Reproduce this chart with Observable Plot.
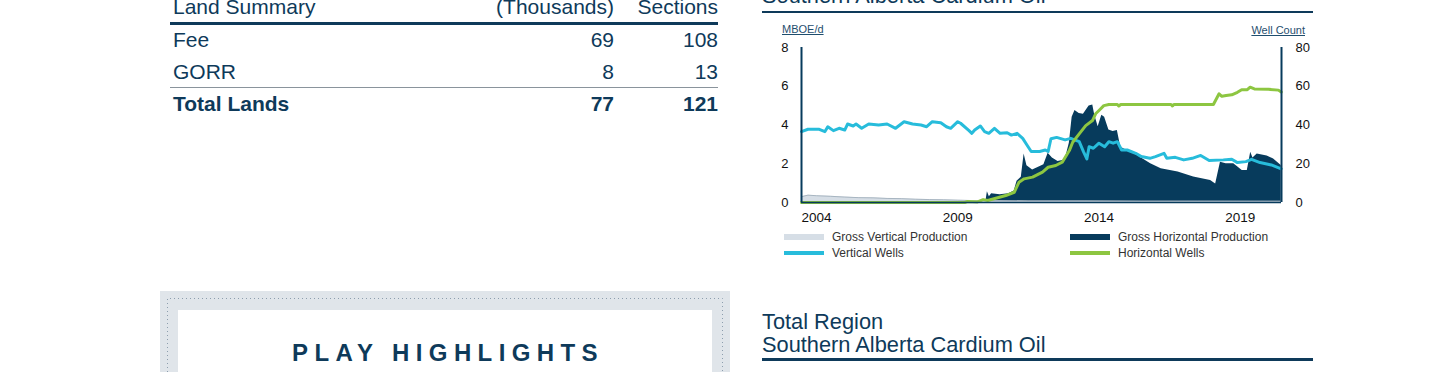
<!DOCTYPE html>
<html><head><meta charset="utf-8">
<script src="https://cdn.jsdelivr.net/npm/d3@7"></script>
<script src="https://cdn.jsdelivr.net/npm/@observablehq/plot@0.6"></script>
<style>
html,body{margin:0;padding:0;}
body{width:1440px;height:372px;overflow:hidden;background:#fff;position:relative;font-family:"Liberation Sans",Arial,sans-serif;color:#0e3a5a;}
.abs{position:absolute;white-space:nowrap;}
.t21{font-size:21px;line-height:24px;}
.t215{font-size:21.8px;line-height:24px;}
.r{text-align:right;}
.rule{position:absolute;background:#0e3a5a;}
.leg{position:absolute;font-size:12px;line-height:14px;color:#333;white-space:nowrap;}
.sw{position:absolute;width:40px;}
.unit{position:absolute;font-size:11px;line-height:13px;color:#1f4e6e;text-decoration:underline;white-space:nowrap;}
#chart{position:absolute;left:760px;top:20px;}
</style></head>
<body>
<div id="page"></div>
<div id="chart"></div>
<script>
// ---------- data ----------
const tableHeader = ["Land Summary", "(Thousands)", "Sections"];
const landCategories = ["Fee", "GORR"];
const landThousands = [69, 8];
const landSections = [108, 13];
const totalLabel = "Total Lands";
const totalThousands = 77;
const totalSections = 121;

const chartTitleTop = "Southern Alberta Cardium Oil";
const regionTitle = ["Total Region", "Southern Alberta Cardium Oil"];
const highlightsTitle = "PLAY HIGHLIGHTS";
const leftUnit = "MBOE/d";
const rightUnit = "Well Count";
const legendLabels = ["Gross Vertical Production", "Gross Horizontal Production", "Vertical Wells", "Horizontal Wells"];

const xDomain = [2003.97, 2020.96];
const xTickValues = [2004.5, 2009.5, 2014.5, 2019.5];
const xTickLabels = ["2004", "2009", "2014", "2019"];
const yTicksLeft = [0, 2, 4, 6, 8];
const yTicksRight = [0, 20, 40, 60, 80];

// Gross vertical production, MBOE/d  [year, value]
const vertProd = [[2003.97,0.30],[2004.2,0.38],[2004.5,0.35],[2005.0,0.32],[2005.5,0.28],[2006.0,0.25],[2006.5,0.24],[2007.0,0.21],[2007.5,0.2],[2008.0,0.17],[2008.5,0.15],[2009.0,0.14],[2009.5,0.12],[2010.0,0.1],[2011.0,0.09],[2012.0,0.08],[2014.0,0.08],[2016.0,0.07],[2018.0,0.07],[2020.95,0.06]];
// Gross horizontal production, MBOE/d
const horizProd = [[2003.97,0],[2009.5,0],[2009.6,0.05],[2010.5,0.08],[2010.55,0.55],[2010.62,0.3],[2010.7,0.45],[2011.0,0.4],[2011.3,0.45],[2011.5,0.6],[2011.6,1.1],[2011.75,1.3],[2011.85,2.5],[2011.95,1.9],[2012.15,1.68],[2012.4,1.85],[2012.55,1.95],[2012.7,2.54],[2012.85,2.3],[2013.05,2.11],[2013.3,2.2],[2013.45,3.06],[2013.55,4.4],[2013.65,4.75],[2013.8,4.6],[2013.95,4.55],[2014.15,4.98],[2014.28,5.03],[2014.35,4.5],[2014.47,3.91],[2014.6,4.5],[2014.7,4.4],[2014.85,3.74],[2015.0,3.66],[2015.15,3.72],[2015.27,2.85],[2015.5,2.68],[2015.86,2.43],[2016.33,2.0],[2016.7,1.74],[2017.3,1.57],[2017.85,1.31],[2018.45,1.14],[2018.63,0.96],[2018.8,2.08],[2019.0,2.0],[2019.27,2.0],[2019.57,1.65],[2019.75,1.65],[2019.87,2.6],[2019.95,2.3],[2020.1,2.5],[2020.45,2.4],[2020.68,2.25],[2020.95,1.91]];
// Vertical wells, count
const vertWells = [[2003.97,36.6],[2004.2,37.8],[2004.6,37.8],[2004.8,36.6],[2004.9,39.1],[2005.1,37.1],[2005.3,38.3],[2005.5,37.4],[2005.6,40.5],[2005.8,39.5],[2005.9,40.5],[2006.1,38.3],[2006.35,40.5],[2006.7,40],[2007.0,40.5],[2007.3,38.3],[2007.6,41.7],[2007.9,40.5],[2008.2,40],[2008.4,39.1],[2008.6,41.7],[2008.9,41.2],[2009.1,39.1],[2009.25,38.3],[2009.5,41.7],[2009.6,40.9],[2009.9,37.1],[2010.0,35.7],[2010.1,37.4],[2010.3,39.5],[2010.45,36.6],[2010.6,35.7],[2010.8,38.3],[2011.0,35.7],[2011.25,36],[2011.4,34.8],[2011.6,35.7],[2011.8,33.1],[2011.95,29.7],[2012.1,26.3],[2012.4,26.3],[2012.6,27.1],[2012.7,26.3],[2012.8,32.9],[2013.0,33.6],[2013.3,32.3],[2013.5,33.1],[2013.8,31.4],[2013.95,26.3],[2014.07,22.5],[2014.15,28.8],[2014.3,28],[2014.5,30.6],[2014.7,28.8],[2014.85,31.4],[2015.0,30.6],[2015.15,31.4],[2015.3,27.1],[2015.5,27.1],[2015.8,25.4],[2016.0,23.7],[2016.3,22.8],[2016.5,23.7],[2016.8,25.4],[2016.9,22.8],[2017.2,23.3],[2017.5,22],[2017.8,22.8],[2018.1,24.3],[2018.4,21.7],[2018.9,22],[2019.2,22.3],[2019.4,20.6],[2019.7,21.1],[2019.9,22.3],[2020.2,20.6],[2020.6,19.4],[2020.95,17.4]];
// Horizontal wells, count
const horizWells = [[2003.97,0],[2009.75,0],[2009.85,0.5],[2010.2,0.3],[2010.4,1.5],[2010.56,1.0],[2011.2,3.6],[2011.5,5.3],[2011.67,10.5],[2011.85,12.2],[2012.15,13.1],[2012.5,15.7],[2012.7,18.2],[2012.97,19.1],[2013.2,20.8],[2013.45,26.8],[2013.57,31.1],[2013.8,35.4],[2014.03,39.7],[2014.27,42.3],[2014.38,45.8],[2014.5,47.5],[2014.67,50],[2014.85,50.6],[2015.15,50.6],[2015.2,49.8],[2015.27,50.6],[2017.05,50.6],[2017.1,49.8],[2017.15,50.6],[2018.55,50.6],[2018.75,56.1],[2018.85,54.8],[2019.0,55.2],[2019.2,55.6],[2019.4,56.9],[2019.55,58.2],[2019.75,58.2],[2019.85,59.5],[2020.0,58.6],[2020.5,58.4],[2020.85,58.0],[2020.95,57]];

// ---------- styling ----------
const NAVY = "#073b5c", CYAN = "#27bcdb", GREEN = "#8dc641", LIGHT = "#d6dee6";

// ---------- page text ----------
const page = document.getElementById("page");
function add(html, cls, style) {
  const d = document.createElement("div");
  d.className = cls; d.setAttribute("style", style); d.innerHTML = html;
  page.appendChild(d); return d;
}
// Table
add(tableHeader[0], "abs t21", "left:173px;top:-5px;");
add(tableHeader[1], "abs t21 r", "right:" + (1440-614) + "px;top:-5px;");
add(tableHeader[2], "abs t21 r", "right:" + (1440-718) + "px;top:-5px;");
add("", "rule", "left:170px;top:22px;width:548px;height:3px;");
landCategories.forEach((c, i) => {
  const top = 28 + i * 32;
  add(c, "abs t21", "left:173px;top:" + top + "px;");
  add(String(landThousands[i]), "abs t21 r", "right:" + (1440-614) + "px;top:" + top + "px;");
  add(String(landSections[i]), "abs t21 r", "right:" + (1440-718) + "px;top:" + top + "px;");
});
add("", "rule", "left:170px;top:87px;width:548px;height:1px;background:#8a949c;");
add(totalLabel, "abs t21", "left:173px;top:92px;font-weight:bold;");
add(String(totalThousands), "abs t21 r", "right:" + (1440-614) + "px;top:92px;font-weight:bold;");
add(String(totalSections), "abs t21 r", "right:" + (1440-718) + "px;top:92px;font-weight:bold;");

// Right top title
add(chartTitleTop, "abs t215", "left:762px;top:-16px;");
add("", "rule", "left:762px;top:11px;width:551px;height:2px;");
add(leftUnit, "unit", "left:782px;top:23px;");
add(rightUnit, "unit", "right:" + (1440-1305) + "px;top:24px;");

// Legend
const legendSw = [
  {x:784, y:234, h:6, c:LIGHT},
  {x:1070, y:234, h:6, c:NAVY},
  {x:784, y:251, h:4, c:CYAN},
  {x:1070, y:251, h:4, c:GREEN}
];
legendLabels.forEach((l, i) => {
  const s = legendSw[i];
  add("", "sw", "left:" + s.x + "px;top:" + s.y + "px;height:" + s.h + "px;background:" + s.c + ";");
  add(l, "leg", "left:" + (s.x + 48) + "px;top:" + (i < 2 ? 230 : 246) + "px;");
});

// Bottom-left box
add("", "abs", "left:160px;top:291px;width:570px;height:90px;background:#e0e5ea;");
add('<svg width="556" height="90" style="display:block"><path d="M0.5,90 V0.5 H555.5 V90" fill="none" stroke="#8d9eae" stroke-width="1" stroke-dasharray="1 3"/></svg>', "abs", "left:167px;top:298px;");
add("", "abs", "left:178px;top:310px;width:534px;height:80px;background:#fff;");
add(highlightsTitle, "abs", "left:178px;width:534px;top:339px;text-align:center;font-size:24px;line-height:28px;font-weight:bold;letter-spacing:6.4px;padding-left:6px;box-sizing:border-box;color:#0e3a5a;");

// Bottom-right titles
add(regionTitle[0], "abs t215", "left:762px;top:310px;");
add(regionTitle[1], "abs t215", "left:762px;top:333px;");
add("", "rule", "left:762px;top:358px;width:551px;height:2.5px;");

// ---------- chart ----------
const toObj = a => a.map(([t, v]) => ({t, v}));
const chart = Plot.plot({
  width: 560, height: 210,
  marginLeft: 41, marginRight: 39, marginTop: 27, marginBottom: 28,
  x: {domain: xDomain},
  y: {domain: [0, 8]},
  style: {fontFamily: "'Liberation Sans', Arial, sans-serif", fontSize: "13px", color: "#111", background: "transparent", overflow: "visible"},
  marks: [
    Plot.areaY(toObj(horizProd), {x: "t", y: "v", fill: NAVY}),
    Plot.areaY(toObj(vertProd), {x: "t", y: "v", fill: LIGHT}),
    Plot.lineY(toObj(vertProd), {x: "t", y: "v", stroke: "#9aa9b6", strokeWidth: 0.8}),
    Plot.lineY(toObj(vertWells), {x: "t", y: d => d.v / 10, stroke: CYAN, strokeWidth: 3, strokeLinejoin: "round"}),
    Plot.lineY(toObj(horizWells), {x: "t", y: d => d.v / 10, stroke: GREEN, strokeWidth: 3, strokeLinejoin: "round"}),
    Plot.ruleX([xDomain[0], xDomain[1]], {stroke: NAVY, strokeWidth: 2}),
    Plot.ruleY([0], {stroke: NAVY, strokeWidth: 1.5}),
    Plot.axisX({ticks: xTickValues, tickFormat: (d, i) => xTickLabels[i], tickSize: 0, tickPadding: 10, label: null, fontSize: 13.5}),
    Plot.axisY({anchor: "left", ticks: yTicksLeft, tickFormat: d => String(d), tickSize: 0, tickPadding: 13, label: null}),
    Plot.axisY({anchor: "right", ticks: yTicksLeft, tickFormat: (d, i) => String(yTicksRight[i]), tickSize: 0, tickPadding: 14, label: null})
  ]
});
document.getElementById("chart").appendChild(chart);
</script>
</body></html>
